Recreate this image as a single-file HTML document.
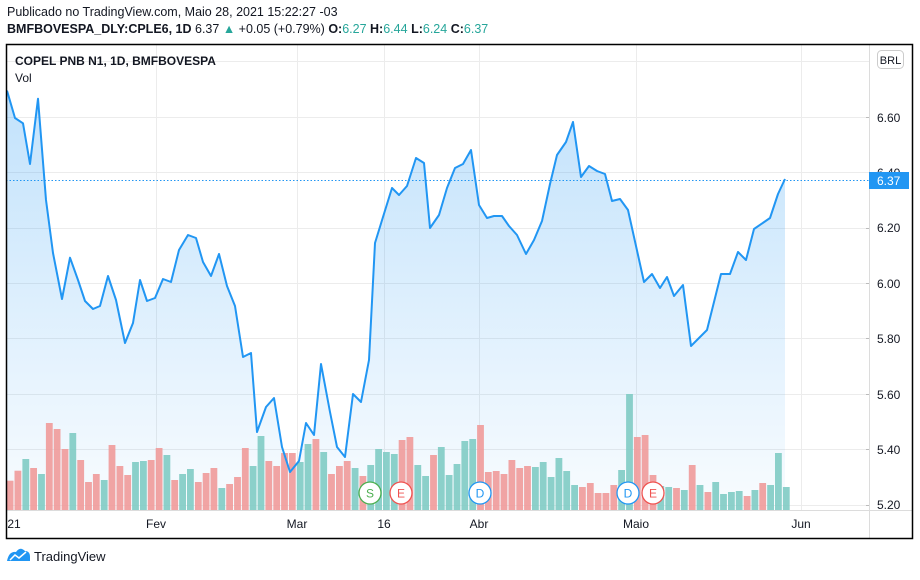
<!DOCTYPE html>
<html><head><meta charset="utf-8"><style>
body{margin:0;background:#fff;width:920px;height:575px;overflow:hidden;font-family:"Liberation Sans",sans-serif}
svg text{font-family:"Liberation Sans",sans-serif}
</style></head><body>
<svg width="920" height="575" xmlns="http://www.w3.org/2000/svg">
<defs><linearGradient id="g" x1="0" y1="85" x2="0" y2="510" gradientUnits="userSpaceOnUse"><stop offset="0" stop-color="#2196f3" stop-opacity="0.28"/><stop offset="1" stop-color="#2196f3" stop-opacity="0.03"/></linearGradient></defs>
<text x="7" y="16" font-size="12.5" fill="#131722">Publicado no TradingView.com, Maio 28, 2021 15:22:27 -03</text>
<text x="7" y="33" font-size="12.5" fill="#131722"><tspan font-weight="bold">BMFBOVESPA_DLY:CPLE6, 1D</tspan> 6.37 <tspan fill="#26a69a">▲</tspan> +0.05 (+0.79%) <tspan font-weight="bold">O:</tspan><tspan fill="#26a69a">6.27</tspan> <tspan font-weight="bold">H:</tspan><tspan fill="#26a69a">6.44</tspan> <tspan font-weight="bold">L:</tspan><tspan fill="#26a69a">6.24</tspan> <tspan font-weight="bold">C:</tspan><tspan fill="#26a69a">6.37</tspan></text>
<g stroke="#ececec" stroke-width="1">
<line x1="6" y1="61.5" x2="870" y2="61.5"/><line x1="6" y1="117.5" x2="870" y2="117.5"/><line x1="6" y1="172.5" x2="870" y2="172.5"/><line x1="6" y1="228.5" x2="870" y2="228.5"/><line x1="6" y1="283.5" x2="870" y2="283.5"/><line x1="6" y1="338.5" x2="870" y2="338.5"/><line x1="6" y1="394.5" x2="870" y2="394.5"/><line x1="6" y1="449.5" x2="870" y2="449.5"/><line x1="6" y1="505.5" x2="870" y2="505.5"/>
<line x1="156.5" y1="44" x2="156.5" y2="510"/><line x1="297.5" y1="44" x2="297.5" y2="510"/><line x1="384.5" y1="44" x2="384.5" y2="510"/><line x1="479.5" y1="44" x2="479.5" y2="510"/><line x1="636.5" y1="44" x2="636.5" y2="510"/><line x1="801.5" y1="44" x2="801.5" y2="510"/>
</g>
<polygon fill="url(#g)" points="7,90.7 15,118 23,123.3 30,164 38,98.7 46,200 53,253 62,299 70,257.7 78,280 85,301 93,309 100,306 108,276 116,300 125,343 133,323 140,280 147,301 155,298 163,279 171,282 179,250 188,235 196,238 203,262 211,276 219,254 227,286 235,306 243,357 251,353 257,432 266,407 274,398 282,447 290,472 299,461 306,423 314,435 321,364 330,412 337,447 345,457 353,394 361,402 369,360 375,243 383,217 392,188 399,195 407,186 416,158 424,163 430,228 439,215 447,188 455,168 463,164 471,150 479,205 487,218 494,216 502,216 509,226 517,235 526,254 534,240 542,221 550,184 557,155 566,142 573,122 581,177 589,166 597,171 605,174 612,201 620,199 628,210 644,282 652,274 660,288 667,277 674,296 683,285 691,346 707,330 721,274 730,274 738,252 746,260 754,229 770,218 778,194 785,179 785,510 7,510"/>
<g fill="#ef9a9a" fill-opacity="0.9">
<rect x="6.7" y="480.7" width="6.8" height="29.3"/><rect x="14.5" y="470.7" width="6.8" height="39.3"/><rect x="30.2" y="468" width="6.8" height="42"/><rect x="45.9" y="423" width="6.8" height="87"/><rect x="53.7" y="429" width="6.8" height="81"/><rect x="61.6" y="449" width="6.8" height="61"/><rect x="77.3" y="460" width="6.8" height="50"/><rect x="85.1" y="482" width="6.8" height="28"/><rect x="92.9" y="474" width="6.8" height="36"/><rect x="108.6" y="445" width="6.8" height="65"/><rect x="116.5" y="466" width="6.8" height="44"/><rect x="124.3" y="475" width="6.8" height="35"/><rect x="147.8" y="460" width="6.8" height="50"/><rect x="155.7" y="448" width="6.8" height="62"/><rect x="171.3" y="480" width="6.8" height="30"/><rect x="194.9" y="482" width="6.8" height="28"/><rect x="202.7" y="473" width="6.8" height="37"/><rect x="210.5" y="468" width="6.8" height="42"/><rect x="226.2" y="484" width="6.8" height="26"/><rect x="234.1" y="477" width="6.8" height="33"/><rect x="241.9" y="448" width="6.8" height="62"/><rect x="265.4" y="461" width="6.8" height="49"/><rect x="273.3" y="466" width="6.8" height="44"/><rect x="281.1" y="453" width="6.8" height="57"/><rect x="288.9" y="453" width="6.8" height="57"/><rect x="312.5" y="439" width="6.8" height="71"/><rect x="328.1" y="474" width="6.8" height="36"/><rect x="336" y="466" width="6.8" height="44"/><rect x="343.8" y="461" width="6.8" height="49"/><rect x="359.5" y="476" width="6.8" height="34"/><rect x="398.7" y="440" width="6.8" height="70"/><rect x="406.5" y="437" width="6.8" height="73"/><rect x="430.1" y="455" width="6.8" height="55"/><rect x="477.1" y="425" width="6.8" height="85"/><rect x="484.9" y="472" width="6.8" height="38"/><rect x="492.8" y="471" width="6.8" height="39"/><rect x="500.6" y="474" width="6.8" height="36"/><rect x="508.5" y="460" width="6.8" height="50"/><rect x="516.3" y="468" width="6.8" height="42"/><rect x="524.1" y="466" width="6.8" height="44"/><rect x="579" y="487" width="6.8" height="23"/><rect x="586.9" y="483" width="6.8" height="27"/><rect x="594.7" y="493" width="6.8" height="17"/><rect x="602.5" y="493" width="6.8" height="17"/><rect x="610.4" y="485" width="6.8" height="25"/><rect x="633.9" y="437" width="6.8" height="73"/><rect x="641.7" y="435" width="6.8" height="75"/><rect x="649.6" y="475" width="6.8" height="35"/><rect x="673.1" y="488" width="6.8" height="22"/><rect x="688.8" y="465" width="6.8" height="45"/><rect x="704.5" y="492" width="6.8" height="18"/><rect x="743.7" y="496" width="6.8" height="14"/><rect x="759.3" y="483" width="6.8" height="27"/>
</g>
<g fill="#80cbc4" fill-opacity="0.9">
<rect x="22.4" y="459" width="6.8" height="51"/><rect x="38.1" y="474" width="6.8" height="36"/><rect x="69.4" y="433" width="6.8" height="77"/><rect x="100.8" y="480" width="6.8" height="30"/><rect x="132.1" y="462" width="6.8" height="48"/><rect x="140" y="461" width="6.8" height="49"/><rect x="163.5" y="455" width="6.8" height="55"/><rect x="179.2" y="474" width="6.8" height="36"/><rect x="187" y="469" width="6.8" height="41"/><rect x="218.4" y="488" width="6.8" height="22"/><rect x="249.7" y="466" width="6.8" height="44"/><rect x="257.6" y="436" width="6.8" height="74"/><rect x="296.8" y="462" width="6.8" height="48"/><rect x="304.6" y="444" width="6.8" height="66"/><rect x="320.3" y="452" width="6.8" height="58"/><rect x="351.7" y="468" width="6.8" height="42"/><rect x="367.3" y="465" width="6.8" height="45"/><rect x="375.2" y="449" width="6.8" height="61"/><rect x="383" y="452" width="6.8" height="58"/><rect x="390.9" y="454" width="6.8" height="56"/><rect x="414.4" y="465" width="6.8" height="45"/><rect x="422.2" y="476" width="6.8" height="34"/><rect x="437.9" y="447" width="6.8" height="63"/><rect x="445.7" y="475" width="6.8" height="35"/><rect x="453.6" y="464" width="6.8" height="46"/><rect x="461.4" y="441" width="6.8" height="69"/><rect x="469.3" y="439" width="6.8" height="71"/><rect x="532" y="467" width="6.8" height="43"/><rect x="539.8" y="462" width="6.8" height="48"/><rect x="547.7" y="477" width="6.8" height="33"/><rect x="555.5" y="458" width="6.8" height="52"/><rect x="563.3" y="471" width="6.8" height="39"/><rect x="571.2" y="485" width="6.8" height="25"/><rect x="618.2" y="470" width="6.8" height="40"/><rect x="626.1" y="394" width="6.8" height="116"/><rect x="657.4" y="486" width="6.8" height="24"/><rect x="665.3" y="487" width="6.8" height="23"/><rect x="680.9" y="490" width="6.8" height="20"/><rect x="696.6" y="485" width="6.8" height="25"/><rect x="712.3" y="482" width="6.8" height="28"/><rect x="720.1" y="494" width="6.8" height="16"/><rect x="728" y="492" width="6.8" height="18"/><rect x="735.8" y="491" width="6.8" height="19"/><rect x="751.5" y="490" width="6.8" height="20"/><rect x="767.2" y="485" width="6.8" height="25"/><rect x="775" y="453" width="6.8" height="57"/><rect x="782.9" y="487" width="6.8" height="23"/>
</g>
<line x1="6" y1="180.5" x2="869" y2="180.5" stroke="#2196f3" stroke-width="1" stroke-dasharray="1.5,2"/>
<polyline fill="none" stroke="#2196f3" stroke-width="2" stroke-linejoin="round" points="7,90.7 15,118 23,123.3 30,164 38,98.7 46,200 53,253 62,299 70,257.7 78,280 85,301 93,309 100,306 108,276 116,300 125,343 133,323 140,280 147,301 155,298 163,279 171,282 179,250 188,235 196,238 203,262 211,276 219,254 227,286 235,306 243,357 251,353 257,432 266,407 274,398 282,447 290,472 299,461 306,423 314,435 321,364 330,412 337,447 345,457 353,394 361,402 369,360 375,243 383,217 392,188 399,195 407,186 416,158 424,163 430,228 439,215 447,188 455,168 463,164 471,150 479,205 487,218 494,216 502,216 509,226 517,235 526,254 534,240 542,221 550,184 557,155 566,142 573,122 581,177 589,166 597,171 605,174 612,201 620,199 628,210 644,282 652,274 660,288 667,277 674,296 683,285 691,346 707,330 721,274 730,274 738,252 746,260 754,229 770,218 778,194 785,179"/>
<g font-size="12" text-anchor="middle">
<circle cx="370" cy="493" r="11" fill="#fff" stroke="#4caf50" stroke-width="1.3"/><text x="370" y="497.5" fill="#4caf50">S</text>
<circle cx="401" cy="493" r="11" fill="#fff" stroke="#ef5350" stroke-width="1.3"/><text x="401" y="497.5" fill="#ef5350">E</text>
<circle cx="480" cy="493" r="11" fill="#fff" stroke="#2196f3" stroke-width="1.3"/><text x="480" y="497.5" fill="#2196f3">D</text>
<circle cx="628" cy="493" r="11" fill="#fff" stroke="#2196f3" stroke-width="1.3"/><text x="628" y="497.5" fill="#2196f3">D</text>
<circle cx="653" cy="493" r="11" fill="#fff" stroke="#ef5350" stroke-width="1.3"/><text x="653" y="497.5" fill="#ef5350">E</text>
</g>
<line x1="869.5" y1="44" x2="869.5" y2="538" stroke="#dcdcdc"/>
<line x1="6" y1="510.5" x2="913" y2="510.5" stroke="#dcdcdc"/>
<g stroke="#bbb"><line x1="866" y1="117.5" x2="869" y2="117.5"/><line x1="866" y1="228.5" x2="869" y2="228.5"/><line x1="866" y1="283.5" x2="869" y2="283.5"/><line x1="866" y1="338.5" x2="869" y2="338.5"/><line x1="866" y1="394.5" x2="869" y2="394.5"/><line x1="866" y1="449.5" x2="869" y2="449.5"/><line x1="866" y1="505.5" x2="869" y2="505.5"/></g>
<g font-size="12" fill="#131722">
<text x="877" y="122">6.60</text><text x="877" y="177">6.40</text><text x="877" y="232">6.20</text><text x="877" y="288">6.00</text><text x="877" y="343">5.80</text><text x="877" y="399">5.60</text><text x="877" y="454">5.40</text><text x="877" y="509">5.20</text>
</g>
<rect x="869" y="172" width="40" height="17" fill="#2196f3"/>
<text x="877" y="185" font-size="12" fill="#fff">6.37</text>
<rect x="877.5" y="50.5" width="26" height="18" rx="4" fill="#fff" stroke="#ccc"/>
<text x="890.5" y="64" font-size="11" fill="#131722" text-anchor="middle">BRL</text>
<g font-size="12" fill="#131722" text-anchor="middle">
<text x="14" y="528">21</text><text x="156" y="528">Fev</text><text x="297" y="528">Mar</text><text x="384" y="528">16</text><text x="479" y="528">Abr</text><text x="636" y="528">Maio</text><text x="801" y="528">Jun</text>
</g>
<text x="15" y="65" font-size="12" font-weight="bold" fill="#131722">COPEL PNB N1, 1D, BMFBOVESPA</text>
<text x="15" y="82" font-size="12" fill="#131722">Vol</text>
<rect x="6.5" y="44.5" width="906" height="494" fill="none" stroke="#000" stroke-width="1.5"/>
<path d="M7,561 Q9,551 16,552 Q20,546 25,551 Q30,551 30,557 L30,561 Z" fill="#2196f3"/>
<polyline points="10,560 15,555 19,558 26,552" fill="none" stroke="#fff" stroke-width="1.5"/>
<text x="34" y="561" font-size="13" fill="#131722">TradingView</text>
</svg>
</body></html>
